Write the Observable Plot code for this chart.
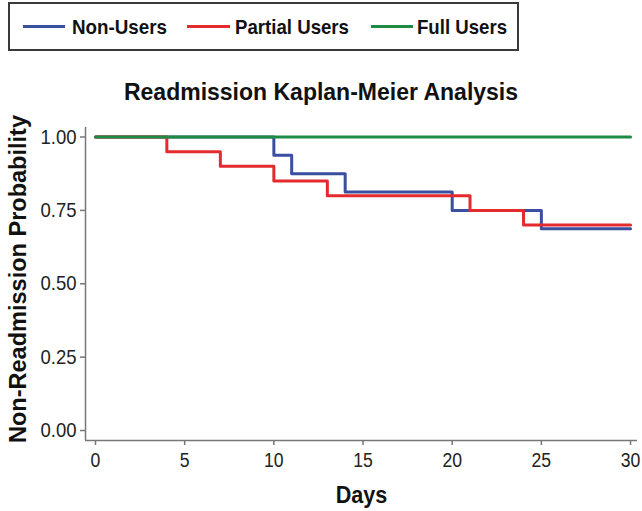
<!DOCTYPE html>
<html>
<head>
<meta charset="utf-8">
<script src="https://cdn.jsdelivr.net/npm/d3@7"></script>
<script src="https://cdn.jsdelivr.net/npm/@observablehq/plot@0.6"></script>
<style>
  html, body { margin: 0; padding: 0; background: #fff; width: 642px; height: 511px; overflow: hidden; }
  body { position: relative; font-family: "Liberation Sans", Arial, sans-serif; }
  #legend { position: absolute; left: 8px; top: 2px; width: 507px; height: 45px; border: 2px solid #3a3a3a; }
  .sw { position: absolute; top: 21px; height: 3px; }
  .lt { position: absolute; top: 11px; font-weight: bold; font-size: 21px; line-height: 24px; color: #111; white-space: nowrap; transform-origin: 0 50%; }
  #title { position: absolute; left: 0; top: 79px; width: 642px; text-align: center; font-weight: bold; font-size: 23px; color: #111; }
  #chart { position: absolute; left: 0; top: 110px; }
  #chart svg { overflow: visible; }
</style>
</head>
<body>
<div id="legend"></div>
<div id="title"></div>
<div id="chart"></div>
<script>
const titleText = "Readmission Kaplan-Meier Analysis";
const xLabel = "Days";
const yLabel = "Non-Readmission Probability";

const groups = ["Non-Users", "Partial Users", "Full Users"];
const colors = ["#3B4FA0", "#E42A2D", "#1E8B45"];

const nonUsersDays = [0, 10, 11, 14, 20, 25, 30];
const nonUsersSurv = [1, 0.9375, 0.875, 0.8125, 0.75, 0.6875, 0.6875];
const partialDays = [0, 4, 7, 10, 13, 21, 24, 30];
const partialSurv = [1, 0.95, 0.90, 0.85, 0.80, 0.75, 0.70, 0.70];
const fullDays = [0, 30];
const fullSurv = [1, 1];

const xTicks = [0, 5, 10, 15, 20, 25, 30];
const yTicks = [0, 0.25, 0.5, 0.75, 1];

const data = [
  ...nonUsersDays.map((d, i) => ({group: groups[0], day: d, surv: nonUsersSurv[i]})),
  ...partialDays.map((d, i) => ({group: groups[1], day: d, surv: partialSurv[i]})),
  ...fullDays.map((d, i) => ({group: groups[2], day: d, surv: fullSurv[i]}))
];

// legend
const legend = document.getElementById("legend");
const swPos = [[13, 42, 62, 95], [177, 43, 225, 114], [361, 42, 407, 90]];
groups.forEach((g, i) => {
  const sw = document.createElement("div");
  sw.className = "sw";
  sw.style.left = swPos[i][0] + "px";
  sw.style.width = swPos[i][1] + "px";
  sw.style.background = colors[i];
  legend.appendChild(sw);
  const t = document.createElement("div");
  t.className = "lt";
  t.style.left = swPos[i][2] + "px";
  t.textContent = g;
  legend.appendChild(t);
  const w = t.getBoundingClientRect().width;
  t.style.transform = `scaleX(${swPos[i][3] / w})`;
});
document.getElementById("title").textContent = titleText;

const xDomain = [-0.561, 30.39];
const yDomain = [-0.034, 1.0324];
const font = "'Liberation Sans', Arial, sans-serif";

const chart = Plot.plot({
  width: 642,
  height: 401,
  marginLeft: 85,
  marginRight: 5,
  marginTop: 17,
  marginBottom: 71,
  style: {fontFamily: font, background: "#fff", color: "#222", overflow: "visible"},
  x: {domain: xDomain},
  y: {domain: yDomain},
  color: {domain: groups, range: colors},
  marks: [
    Plot.axisX({ticks: xTicks, tickSize: 5, tickPadding: 7, fontSize: 20, label: null, stroke: "#777", strokeWidth: 1.5, fill: "#222"}),
    Plot.axisY({ticks: yTicks, tickSize: 5, tickPadding: 4, fontSize: 21, label: null, tickFormat: d3.format(".2f"), stroke: "#777", strokeWidth: 1.5, fill: "#222"}),
    Plot.ruleY([yDomain[0]], {stroke: "#777", strokeWidth: 1.5}),
    Plot.ruleX([xDomain[0]], {stroke: "#777", strokeWidth: 1.5}),
    Plot.line(data, {x: "day", y: "surv", z: "group", stroke: "group", strokeWidth: 3, curve: "step-after"}),
    Plot.text([xLabel], {text: d => d, frameAnchor: "bottom", dy: 55, textAnchor: "middle", lineAnchor: "middle", fontSize: 24, fontWeight: "bold", fill: "#111"}),
    Plot.text([yLabel], {text: d => d, frameAnchor: "left", dx: -67, dy: -5, rotate: -90, textAnchor: "middle", lineAnchor: "middle", fontSize: 24, fontWeight: "bold", fill: "#111"})
  ]
});
document.getElementById("chart").appendChild(chart);

// condense text slightly, like the narrow face of the reference
chart.querySelectorAll('g[aria-label$="tick label"] text').forEach(t => {
  const len = t.getComputedTextLength();
  if (len > 0) {
    t.setAttribute("textLength", (len * 0.88).toFixed(1));
    t.setAttribute("lengthAdjust", "spacingAndGlyphs");
  }
});
chart.querySelectorAll("text").forEach(t => {
  if (t.textContent === yLabel) {
    t.setAttribute("textLength", "328");
    t.setAttribute("lengthAdjust", "spacingAndGlyphs");
  } else if (t.textContent === xLabel) {
    const len = t.getComputedTextLength();
    if (len > 0) {
      t.setAttribute("textLength", (len * 0.9).toFixed(1));
      t.setAttribute("lengthAdjust", "spacingAndGlyphs");
    }
  }
});
</script>
</body>
</html>
